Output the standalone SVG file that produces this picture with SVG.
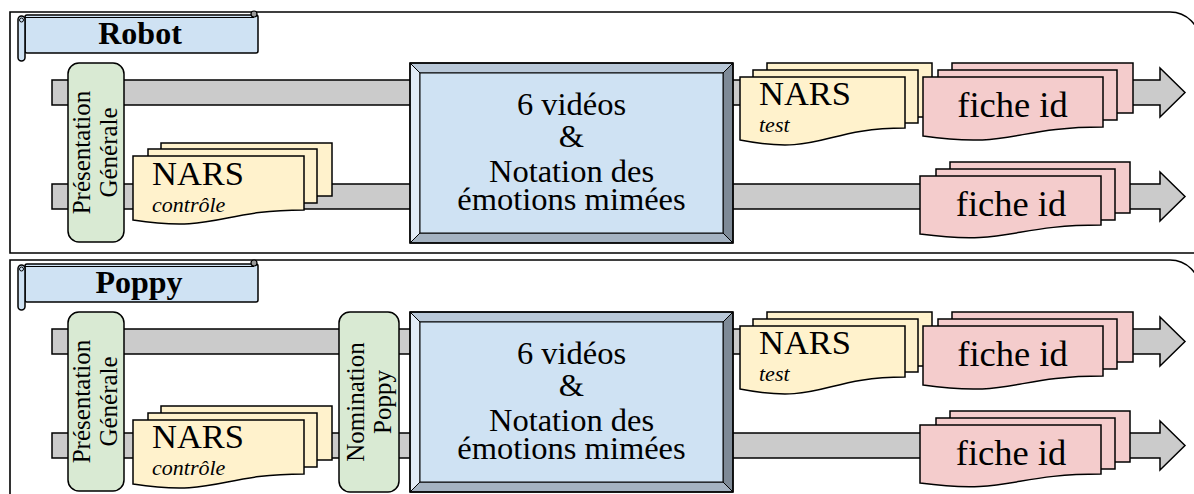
<svg xmlns="http://www.w3.org/2000/svg" width="1194" height="494" viewBox="0 0 1194 494">
<style>
.frame{fill:#ffffff;stroke:#000;stroke-width:1.6}
.ban{fill:#cfe2f3;stroke:#000;stroke-width:1.5}
.bt{font-family:"Liberation Serif",serif;font-weight:bold;font-size:32px;fill:#000;text-anchor:middle}
.arrow{fill:#cbcbcb;stroke:#000;stroke-width:1.5;stroke-linejoin:miter}
.green{fill:#d9ead3;stroke:#000;stroke-width:1.5}
.rt{font-family:"Liberation Serif",serif;font-size:25px;fill:#000;text-anchor:middle}
.nars{fill:#fff2cc;stroke:#000;stroke-width:1.5}
.fiche{fill:#f4cccc;stroke:#000;stroke-width:1.5}
.big{font-family:"Liberation Serif",serif;font-size:34.5px;fill:#000}
.it{font-family:"Liberation Serif",serif;font-style:italic;font-size:22px;fill:#000}
.fi{font-family:"Liberation Serif",serif;font-size:36.5px;fill:#000;text-anchor:middle}
.bx{font-family:"Liberation Serif",serif;font-size:32.5px;fill:#000;text-anchor:middle}
.bv{stroke:#000;stroke-width:1}
</style>
<defs>
<g id="banner">
<rect x="25" y="15" width="233" height="38" rx="2" class="ban"/>
<line x1="25" y1="17.5" x2="254" y2="17.5" stroke="#000" stroke-width="1"/>
<circle cx="254" cy="14" r="3" fill="#999" stroke="#000" stroke-width="1.2"/>
<rect x="18" y="16" width="7" height="45" rx="3.5" class="ban"/>
<circle cx="21.5" cy="20" r="2" fill="none" stroke="#000" stroke-width="1"/>
</g>
<g id="vbox">
<polygon points="410,63 733,63 723,73 420,73" fill="#b9c8d8" class="bv"/>
<polygon points="410,63 420,73 420,233 410,243" fill="#e3ecf7" class="bv"/>
<polygon points="733,63 733,243 723,233 723,73" fill="#7e8a97" class="bv"/>
<polygon points="410,243 420,233 723,233 733,243" fill="#a5b3c2" class="bv"/>
<rect x="420" y="73" width="303" height="160" fill="#cfe2f3" stroke="#000" stroke-width="1"/>
<rect x="410" y="63" width="323" height="180" fill="none" stroke="#000" stroke-width="1.6"/>
<text class="bx" x="571.5" y="115">6 vidéos</text>
<text class="bx" x="571.5" y="147">&amp;</text>
<text class="bx" x="571.5" y="182">Notation des</text>
<text class="bx" x="571.5" y="210">émotions mimées</text>
</g>
</defs>

<g id="frame-robot">
<path class="frame" d="M10,12 H1170 A30,30 0 0 1 1200,42 V253 H10 Z"/>
</g>
<g id="frame-poppy">
<path class="frame" d="M10,260 H1170 A30,30 0 0 1 1200,290 V500 H10 Z"/>
</g>

<g id="connectors">
<path class="arrow" d="M52,80 H1160 V68 L1185,92.5 L1160,117 V105 H52 Z"/>
<path class="arrow" d="M52,184 H1160 V172 L1185,196.5 L1160,221 V209 H52 Z"/>
<path class="arrow" d="M52,329 H1160 V317 L1185,341.5 L1160,366 V354 H52 Z"/>
<path class="arrow" d="M52,433 H1160 V421 L1185,445.5 L1160,470 V458 H52 Z"/>
</g>

<!-- Robot section -->
<g id="banner-robot">
<use href="#banner"/>
<text class="bt" x="140" y="44">Robot</text>
</g>
<g id="presentation-robot">
<rect class="green" x="68" y="63" width="56" height="179" rx="11"/>
<text class="rt" transform="translate(96,152.5) rotate(-90)"><tspan x="0" y="-6">Présentation</tspan><tspan x="0" y="21">Générale</tspan></text>
</g>
<g id="nars-controle-robot">
<rect class="nars" x="161" y="143" width="171" height="53"/>
<rect class="nars" x="148" y="149" width="169" height="54"/>
<path class="nars" d="M133,156 H304 V210 C218.5,210 218.5,233 133,220 Z"/>
<text class="big" x="152" y="185">NARS</text>
<text class="it" x="152" y="212">contrôle</text>
</g>
<g id="videos-robot">
<use href="#vbox"/>
</g>
<g id="nars-test-robot">
<rect class="nars" x="767" y="63" width="165" height="54"/>
<rect class="nars" x="753" y="70" width="165" height="53"/>
<path class="nars" d="M740,77 H905 V128 C822.5,128 822.5,156 740,140 Z"/>
<text class="big" x="759" y="105">NARS</text>
<text class="it" x="759" y="132">test</text>
</g>
<g id="fiche-test-robot">
<rect class="fiche" x="952" y="63" width="181" height="50"/>
<rect class="fiche" x="938" y="70" width="179" height="50"/>
<path class="fiche" d="M923,77 H1103 V127 C1013,127 1013,149 923,136 Z"/>
<text class="fi" x="1012.5" y="117">fiche id</text>
</g>
<g id="fiche-controle-robot">
<rect class="fiche" x="950" y="162" width="180" height="51"/>
<rect class="fiche" x="936" y="169" width="179" height="51"/>
<path class="fiche" d="M920,176 H1101 V225 C1010.5,225 1010.5,246 920,234 Z"/>
<text class="fi" x="1011" y="216">fiche id</text>
</g>

<!-- Poppy section -->
<g id="banner-poppy">
<use href="#banner" transform="translate(0,249)"/>
<text class="bt" x="139" y="293">Poppy</text>
</g>
<g id="presentation-poppy">
<rect class="green" x="68" y="312" width="56" height="179" rx="11"/>
<text class="rt" transform="translate(96,401.5) rotate(-90)"><tspan x="0" y="-6">Présentation</tspan><tspan x="0" y="21">Générale</tspan></text>
</g>
<g id="nars-controle-poppy">
<rect class="nars" x="161" y="406" width="171" height="54"/>
<rect class="nars" x="148" y="413" width="169" height="54"/>
<path class="nars" d="M133,420 H304 V474 C218.5,474 218.5,497 133,484 Z"/>
<text class="big" x="152" y="448">NARS</text>
<text class="it" x="152" y="475">contrôle</text>
</g>
<g id="nomination-poppy">
<rect class="green" x="339" y="312" width="60" height="180" rx="11"/>
<text class="rt" transform="translate(369,402) rotate(-90)"><tspan x="0" y="-5">Nomination</tspan><tspan x="0" y="22">Poppy</tspan></text>
</g>
<g id="videos-poppy">
<use href="#vbox" transform="translate(0,249)"/>
</g>
<g id="nars-test-poppy">
<rect class="nars" x="767" y="312" width="165" height="54"/>
<rect class="nars" x="753" y="319" width="165" height="53"/>
<path class="nars" d="M740,326 H905 V377 C822.5,377 822.5,405 740,389 Z"/>
<text class="big" x="759" y="354">NARS</text>
<text class="it" x="759" y="381">test</text>
</g>
<g id="fiche-test-poppy">
<rect class="fiche" x="952" y="312" width="181" height="50"/>
<rect class="fiche" x="938" y="319" width="179" height="50"/>
<path class="fiche" d="M923,326 H1103 V376 C1013,376 1013,398 923,385 Z"/>
<text class="fi" x="1012.5" y="366">fiche id</text>
</g>
<g id="fiche-controle-poppy">
<rect class="fiche" x="950" y="411" width="180" height="51"/>
<rect class="fiche" x="936" y="418" width="179" height="51"/>
<path class="fiche" d="M920,425 H1101 V474 C1010.5,474 1010.5,495 920,483 Z"/>
<text class="fi" x="1011" y="465">fiche id</text>
</g>
</svg>
